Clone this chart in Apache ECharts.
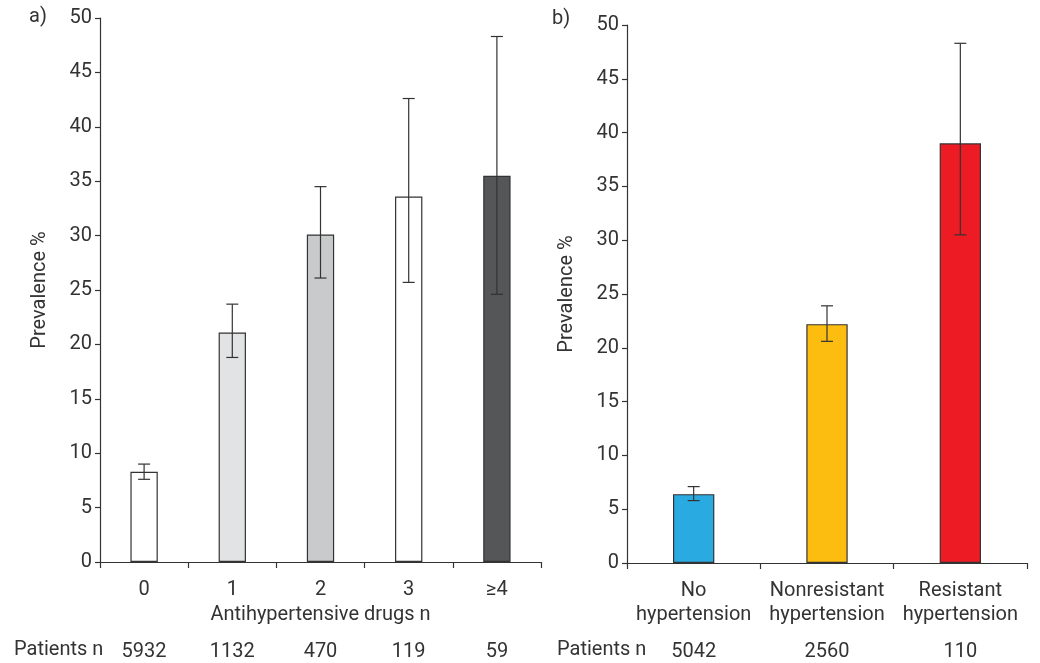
<!DOCTYPE html>
<html><head><meta charset="utf-8">
<script src="https://cdn.jsdelivr.net/npm/echarts@6/dist/echarts.min.js"></script>
<style>html,body{margin:0;padding:0;background:#fff}#c{width:1040px;height:663px}</style>
</head><body><div id="c"></div>
<script>
// Panel a
const catsA = ['0', '1', '2', '3', '≥4'];
const valsA = [8.3, 21.1, 30.1, 33.6, 35.5];
const lowA = [7.6, 18.8, 26.1, 25.7, 24.6];
const highA = [9.0, 23.7, 34.5, 42.6, 48.3];
const patientsA = ['5932', '1132', '470', '119', '59'];
const colorsA = ['#ffffff', '#e2e3e4', '#c9cacc', '#ffffff', '#555658'];
// Panel b
const catsB = ['No\nhypertension', 'Nonresistant\nhypertension', 'Resistant\nhypertension'];
const valsB = [6.4, 22.2, 39.0];
const lowB = [5.8, 20.6, 30.5];
const highB = [7.1, 23.9, 48.3];
const patientsB = ['5042', '2560', '110'];
const colorsB = ['#29abe2', '#fdbd10', '#ed1c24'];
const yTicks = [0, 5, 10, 15, 20, 25, 30, 35, 40, 45, 50];

const FONT = 'Roboto';
const FS = 20;
const TXT = '#333';
const AX = '#333';

function errRender(params, api) {
  const x = api.value(0), lo = api.value(1), hi = api.value(2);
  const p1 = api.coord([x, lo]), p2 = api.coord([x, hi]);
  const cap = 6;
  const st = {stroke: '#333', lineWidth: 1.2};
  return {type: 'group', children: [
    {type: 'line', shape: {x1: p1[0], y1: p1[1], x2: p2[0], y2: p2[1]}, style: st},
    {type: 'line', shape: {x1: p1[0]-cap, y1: p1[1], x2: p1[0]+cap, y2: p1[1]}, style: st},
    {type: 'line', shape: {x1: p2[0]-cap, y1: p2[1], x2: p2[0]+cap, y2: p2[1]}, style: st}
  ]};
}

function yAx(gi) {
  return {
    type: 'value', gridIndex: gi, min: 0, max: 50, interval: 5,
    name: 'Prevalence %', nameLocation: 'middle', nameGap: 50,
    nameTextStyle: {fontFamily: FONT, fontSize: FS, color: TXT},
    axisLine: {show: true, lineStyle: {color: AX, width: 1.2}},
    axisTick: {show: true, length: 5, lineStyle: {color: AX, width: 1.2}},
    axisLabel: {fontFamily: FONT, fontSize: FS, color: TXT, margin: 8,
      formatter: v => yTicks.includes(v) ? String(v) : ''},
    splitLine: {show: false}
  };
}

const option = {
  animation: false,
  backgroundColor: '#fff',
  grid: [
    {left: 100, top: 18, width: 441, height: 544},
    {left: 627, top: 25, width: 400, height: 538}
  ],
  xAxis: [
    {type: 'category', gridIndex: 0, data: catsA,
      name: 'Antihypertensive drugs n', nameLocation: 'middle', nameGap: 41,
      nameTextStyle: {fontFamily: FONT, fontSize: FS, color: TXT},
      axisLine: {lineStyle: {color: AX, width: 1.2}},
      axisTick: {show: true, length: 6, lineStyle: {color: AX, width: 1.2}},
      axisLabel: {fontFamily: FONT, fontSize: FS, color: TXT, margin: 18}},
    {type: 'category', gridIndex: 1, data: catsB,
      axisLine: {lineStyle: {color: AX, width: 1.2}},
      axisTick: {show: true, length: 6, lineStyle: {color: AX, width: 1.2}},
      axisLabel: {fontFamily: FONT, fontSize: FS, color: TXT, margin: 16, lineHeight: 24, interval: 0}},
    {type: 'category', gridIndex: 0, data: patientsA, position: 'bottom', offset: 80,
      axisLine: {show: false}, axisTick: {show: false},
      axisLabel: {fontFamily: FONT, fontSize: FS, color: TXT, margin: 0, interval: 0}},
    {type: 'category', gridIndex: 1, data: patientsB, position: 'bottom', offset: 79,
      axisLine: {show: false}, axisTick: {show: false},
      axisLabel: {fontFamily: FONT, fontSize: FS, color: TXT, margin: 0, interval: 0}}
  ],
  yAxis: [yAx(0), yAx(1)],
  series: [
    {type: 'bar', xAxisIndex: 0, yAxisIndex: 0, barWidth: '31%',
      data: valsA.map((v, i) => ({value: v, itemStyle: {color: colorsA[i]}})),
      itemStyle: {borderColor: '#333', borderWidth: 1.2}},
    {type: 'custom', xAxisIndex: 0, yAxisIndex: 0, renderItem: errRender, z: 5,
      data: valsA.map((v, i) => [i, lowA[i], highA[i]])},
    {type: 'bar', xAxisIndex: 1, yAxisIndex: 1, barWidth: '31%',
      data: valsB.map((v, i) => ({value: v, itemStyle: {color: colorsB[i]}})),
      itemStyle: {borderColor: '#333', borderWidth: 1.2}},
    {type: 'custom', xAxisIndex: 1, yAxisIndex: 1, renderItem: errRender, z: 5,
      data: valsB.map((v, i) => [i, lowB[i], highB[i]])}
  ],
  graphic: [
    {type: 'text', left: 29, top: 7, style: {text: 'a)', font: FS + 'px ' + FONT, fill: TXT}},
    {type: 'text', left: 552, top: 9, style: {text: 'b)', font: FS + 'px ' + FONT, fill: TXT}},
    {type: 'text', left: 14, top: 640, style: {text: 'Patients n', font: FS + 'px ' + FONT, fill: TXT}},
    {type: 'text', left: 557, top: 640, style: {text: 'Patients n', font: FS + 'px ' + FONT, fill: TXT}}
  ]
};
const chart = echarts.init(document.getElementById('c'), null, {renderer: 'canvas'});
chart.setOption(option);
</script></body></html>
